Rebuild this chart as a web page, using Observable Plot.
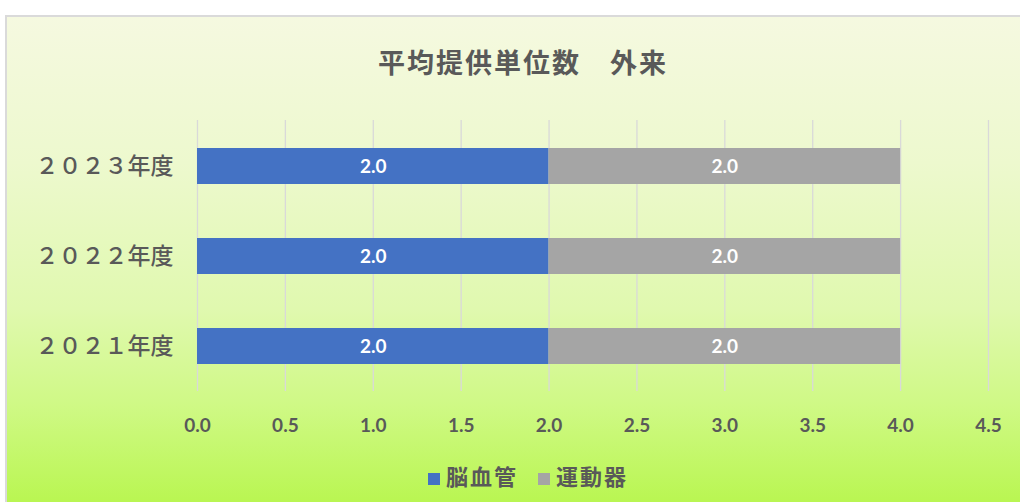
<!DOCTYPE html>
<html>
<head>
<meta charset="utf-8">
<script src="https://cdn.jsdelivr.net/npm/d3@7"></script>
<script src="https://cdn.jsdelivr.net/npm/@observablehq/plot@0.6"></script>
<style>
  html, body { margin: 0; padding: 0; background: #ffffff; width: 1020px; height: 502px; overflow: hidden; }
  #frame {
    position: absolute; left: 5px; top: 15px; width: 1100px; height: 486px;
    border-left: 2px solid #DADADA; border-top: 2px solid #DADADA;
    background: linear-gradient(to bottom, #F5F9E0 0%, #EDF9CE 30%, #E0F9AF 60%, #CFF985 80%, #B9F651 100%);
  }
  #chart { position: absolute; left: 0; top: 0; }
  #title {
    position: absolute; left: 6px; width: 1034px; top: 47px; text-align: center;
    font-family: "Noto Sans CJK JP", sans-serif; font-weight: 700; font-size: 27px; line-height: 30px;
    color: #595959; letter-spacing: 2px;
  }
  #legend {
    position: absolute; left: 428px; top: 462px; white-space: nowrap;
    font-family: "Noto Sans CJK JP", sans-serif; font-weight: 700; font-size: 22px; line-height: 26px;
    color: #595959;
  }
  #legend .item { display: inline-block; margin-right: 20px; letter-spacing: 2px; }
  #legend .sw { display: inline-block; width: 12px; height: 12px; margin-right: 6px; vertical-align: 0px; }
</style>
</head>
<body>
<div id="frame"></div>
<div id="chart"></div>
<div id="title">平均提供単位数　外来</div>
<div id="legend"></div>
<script>
const years = ["２０２３年度", "２０２２年度", "２０２１年度"];
const seriesNames = ["脳血管", "運動器"];
const seriesColors = ["#4472C4", "#A5A5A5"];
const noukekkan = [2.0, 2.0, 2.0];
const undouki = [2.0, 2.0, 2.0];
const xTicks = [0, 0.5, 1, 1.5, 2, 2.5, 3, 3.5, 4, 4.5];

const data = [];
years.forEach((y, i) => {
  data.push({year: y, series: seriesNames[0], value: noukekkan[i]});
  data.push({year: y, series: seriesNames[1], value: undouki[i]});
});

const numFont = "Lato, 'Open Sans', sans-serif";

const chart = Plot.plot({
  width: 1020,
  height: 502,
  marginLeft: 197,
  marginRight: 32,
  marginTop: 120,
  marginBottom: 111,
  style: {background: "transparent", overflow: "visible"},
  x: {domain: [0, 4.5]},
  y: {domain: years, paddingInner: 0.6, paddingOuter: 0.3},
  color: {domain: seriesNames, range: seriesColors},
  marks: [
    Plot.gridX(xTicks, {stroke: "#D9D9D9", strokeOpacity: 1, strokeWidth: 1.3}),
    Plot.barX(data, Plot.stackX({x: "value", y: "year", fill: "series", z: "series", order: seriesNames})),
    Plot.text(data, Plot.stackX({
      x: "value", y: "year", z: "series", order: seriesNames,
      text: d => d.value.toFixed(1), fill: "white",
      fontSize: 19, fontWeight: "bold", fontFamily: numFont
    })),
    Plot.axisX(xTicks, {
      tickSize: 0, tickPadding: 27, tickFormat: d => d.toFixed(1),
      fontSize: 19, fontWeight: "bold", fontFamily: numFont, fill: "#595959", label: null
    }),
    Plot.axisY({
      tickSize: 0, tickPadding: 24, fontSize: 23, fontFamily: "'Noto Sans CJK JP', sans-serif",
      fontWeight: 500, fill: "#595959", label: null
    })
  ]
});
document.getElementById("chart").appendChild(chart);

const legend = document.getElementById("legend");
seriesNames.forEach((name, i) => {
  const item = document.createElement("span");
  item.className = "item";
  const sw = document.createElement("span");
  sw.className = "sw";
  sw.style.background = seriesColors[i];
  item.appendChild(sw);
  item.appendChild(document.createTextNode(name));
  legend.appendChild(item);
});
</script>
</body>
</html>
